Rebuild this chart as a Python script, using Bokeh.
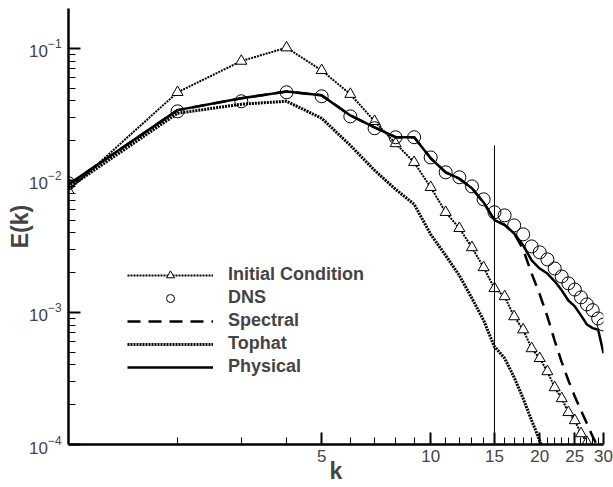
from bokeh.plotting import figure
from bokeh.models import (FixedTicker, PrintfTickFormatter, LogTickFormatter,
                          Legend, LegendItem)
from bokeh.embed import file_html
from bokeh.resources import INLINE

# ---- data ----
k_ic = list(range(1, 28))
e_ic = [0.0084, 0.0464, 0.080, 0.101, 0.068, 0.0449, 0.028, 0.019, 0.0137,
        0.00886, 0.00573, 0.00433, 0.0031, 0.00219, 0.00152, 0.00132, 0.00093,
        0.00074, 0.000533, 0.000449, 0.000357, 0.00027, 0.000223, 0.000175,
        0.000152, 0.000121, 0.000104]

k_dns = list(range(1, 31))
e_dns = [0.0095, 0.0333, 0.0397, 0.0464, 0.0433, 0.0305, 0.0248, 0.0212, 0.0212,
         0.0149, 0.0115, 0.01055, 0.0090, 0.00718, 0.00573, 0.00543, 0.00456,
         0.0039, 0.00316, 0.00285, 0.00252, 0.00215, 0.00187, 0.00166, 0.00149,
         0.0013, 0.00115, 0.00104, 0.0009, 0.00081]

k_phys = list(range(1, 31))
e_phys = [0.0093, 0.034, 0.0418, 0.047, 0.044, 0.031, 0.0252, 0.0212, 0.0212,
          0.0147, 0.0115, 0.0103, 0.0087, 0.0068, 0.0050, 0.0046, 0.00396,
          0.00322, 0.00248, 0.00215, 0.00197, 0.00172, 0.00147, 0.00123,
          0.00111, 0.00095, 0.00081, 0.00076, 0.00074, 0.00049]

k_spec = list(range(1, 30))
e_spec = [0.0093, 0.034, 0.0418, 0.047, 0.044, 0.031, 0.0252, 0.0212, 0.0212,
          0.0147, 0.0115, 0.0103, 0.0087, 0.0068, 0.0050, 0.0046, 0.00396,
          0.0030, 0.00197, 0.00137, 0.00093, 0.00061, 0.00042, 0.000305,
          0.000231, 0.000181, 0.000144, 0.000115, 0.000095]

k_top = list(range(1, 22))
e_top = [0.0088, 0.0322, 0.0377, 0.0397, 0.0295, 0.0184, 0.0119, 0.00855,
         0.0066, 0.0039, 0.0027, 0.0019, 0.00128, 0.00087, 0.00055, 0.00045,
         0.000322, 0.000223, 0.000152, 0.000107, 0.00007]

cutoff_k = [15]
cutoff_e = [1e-4, 0.0184]

x_major = [5, 10, 15, 20, 25, 30]
x_minor = [2, 3, 4, 6, 7, 8, 9, 11, 12, 13, 14, 16, 17, 18, 19,
           21, 22, 23, 24, 26, 27, 28, 29]
y_major = [1e-4, 1e-3, 1e-2, 1e-1]
y_minor = [m * d for d in [1e-4, 1e-3, 1e-2] for m in range(2, 10)]

FONT = "Liberation Sans"

p = figure(width=613, height=487, x_axis_type="log", y_axis_type="log",
           x_range=(1, 30), y_range=(1e-4, 0.2),
           output_backend="svg", toolbar_location=None,
           min_border_left=68, min_border_right=10, min_border_top=8,
           min_border_bottom=43)
p.outline_line_color = None
p.grid.visible = False
p.background_fill_color = "white"
p.border_fill_color = "white"

# lines
r_ic_line = p.line(k_ic, e_ic, line_color="black", line_width=2, line_dash="2 1")
r_ic_mark = p.scatter(k_ic, e_ic, marker="triangle", size=11, line_color="black",
                      fill_color="white", line_width=1)
r_top = p.line(k_top, e_top, line_color="black", line_width=3, line_dash="2 1")
r_spec = p.line(k_spec, e_spec, line_color="black", line_width=2.5, line_dash="13 8")
r_phys = p.line(k_phys, e_phys, line_color="black", line_width=2.5)
r_dns = p.scatter(k_dns, e_dns, marker="circle", size=13, line_color="black",
                  fill_color=None, line_width=1)
p.segment(x0=[cutoff_k[0]], y0=[cutoff_e[0]], x1=[cutoff_k[0]], y1=[cutoff_e[1]],
          line_color="black", line_width=1)

# axes
for ax in (p.xaxis[0], p.yaxis[0]):
    ax.axis_line_width = 2.5
    ax.major_tick_in = 12
    ax.major_tick_out = 0
    ax.minor_tick_in = 7
    ax.minor_tick_out = 0
    ax.major_tick_line_width = 2
    ax.minor_tick_line_width = 1
    ax.major_label_text_font = FONT
    ax.major_label_text_font_size = "17px"
    ax.axis_label_text_font = FONT
    ax.axis_label_text_font_size = "23px"
    ax.axis_label_text_font_style = "bold"

p.xaxis.ticker = FixedTicker(ticks=x_major, minor_ticks=x_minor)
p.xaxis.formatter = PrintfTickFormatter(format="%d")
p.xaxis.axis_label = "k"
p.xaxis.major_label_standoff = 5
p.xaxis.axis_label_standoff = -7

p.yaxis.ticker = FixedTicker(ticks=y_major, minor_ticks=y_minor)
p.yaxis.formatter = LogTickFormatter()
p.yaxis.axis_label = "E(k)"
p.yaxis.major_label_standoff = 7
p.yaxis.axis_label_standoff = -7

legend = Legend(items=[
    LegendItem(label="Initial Condition", renderers=[r_ic_line, r_ic_mark]),
    LegendItem(label="DNS", renderers=[r_dns]),
    LegendItem(label="Spectral", renderers=[r_spec]),
    LegendItem(label="Tophat", renderers=[r_top]),
    LegendItem(label="Physical", renderers=[r_phys]),
], location=(59, 67))
legend.label_text_font = FONT
legend.label_text_font_size = "18px"
legend.label_text_font_style = "bold"
legend.glyph_width = 86
legend.glyph_height = 20
legend.label_height = 20
legend.spacing = 2
legend.padding = 0
legend.margin = 0
legend.label_standoff = 15
legend.border_line_color = None
legend.background_fill_alpha = 0
p.add_layout(legend)

open("out.html", "w").write(file_html(p, INLINE))
